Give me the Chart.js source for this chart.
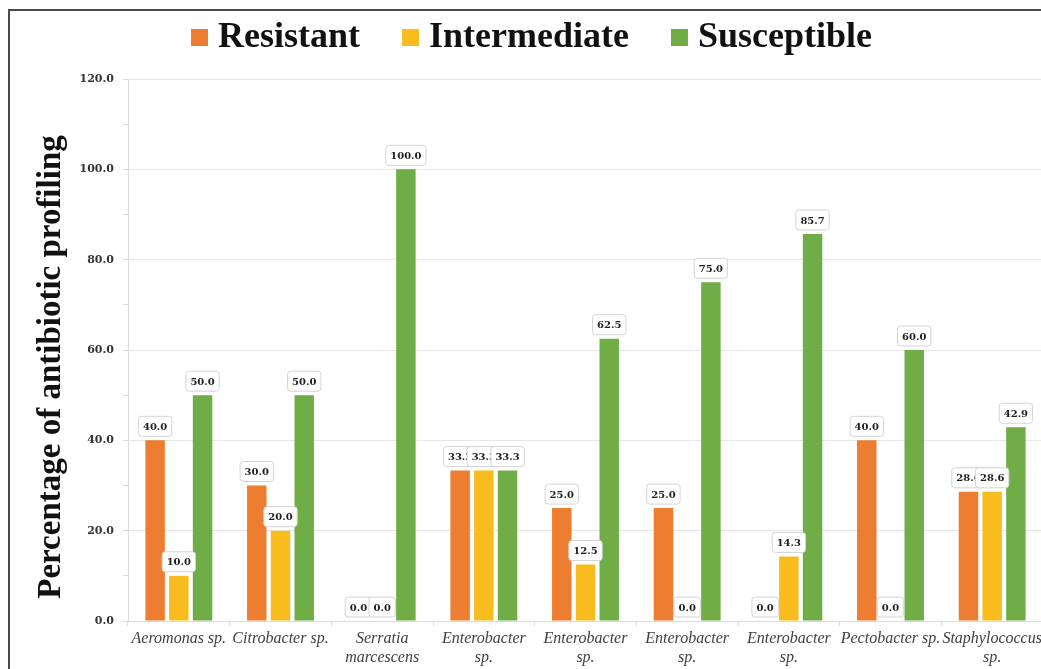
<!DOCTYPE html>
<html>
<head>
<meta charset="utf-8">
<script src="https://cdn.jsdelivr.net/npm/chart.js@4/dist/chart.umd.min.js"></script>
<style>
  html, body { margin: 0; padding: 0; background: #fff; overflow: hidden; width: 1041px; height: 669px; }
  #frame { position: absolute; left: 8px; top: 9px; width: 1100px; height: 700px; border: 2px solid #4a4a4a; box-sizing: border-box; }
  #wrap { position: absolute; left: 0; top: 0; width: 1060px; height: 669px; }
</style>
</head>
<body>
<div id="frame"></div>
<div id="wrap"><canvas id="c" width="1060" height="669" style="width:1060px;height:669px"></canvas></div>
<script>
// Isolates tested
const categories = [
  ['Aeromonas sp.'],
  ['Citrobacter sp.'],
  ['Serratia', 'marcescens'],
  ['Enterobacter', 'sp.'],
  ['Enterobacter', 'sp.'],
  ['Enterobacter', 'sp.'],
  ['Enterobacter', 'sp.'],
  ['Pectobacter sp.'],
  ['Staphylococcus', 'sp.']
];

// Percentage of antibiotics per response class
const resistant    = [40.0, 30.0, 0.0, 33.3, 25.0, 25.0, 0.0, 40.0, 28.6];
const intermediate = [10.0, 20.0, 0.0, 33.3, 12.5, 0.0, 14.3, 0.0, 28.6];
const susceptible  = [50.0, 50.0, 100.0, 33.3, 62.5, 75.0, 85.7, 60.0, 42.9];

const seriesNames = ['Resistant', 'Intermediate', 'Susceptible'];
const seriesColors = ['#ED7D31', '#F8BC1E', '#70AD47'];
const axisTitle = 'Percentage of antibiotic profiling';

const SERIF = '"Liberation Serif", "Times New Roman", serif';
const WIDE_SERIF = '"DejaVu Serif", serif';

// Boxed value labels above each bar, series by series
const valueLabels = {
  id: 'valueLabels',
  afterDatasetsDraw(chart) {
    const ctx = chart.ctx;
    ctx.save();
    ctx.font = 'bold 10px ' + WIDE_SERIF;
    ctx.textAlign = 'center';
    ctx.textBaseline = 'middle';
    chart.data.datasets.forEach((ds, i) => {
      const meta = chart.getDatasetMeta(i);
      meta.data.forEach((bar, j) => {
        const txt = ds.data[j].toFixed(1);
        const w = ctx.measureText(txt).width + 9;
        const h = 20;
        const x = bar.x - w / 2;
        const y = bar.y - 4 - h;
        ctx.beginPath();
        ctx.roundRect(x, y, w, h, 3);
        ctx.fillStyle = '#ffffff';
        ctx.fill();
        ctx.lineWidth = 1;
        ctx.strokeStyle = '#d4d4d4';
        ctx.stroke();
        ctx.fillStyle = '#1f1f1f';
        ctx.fillText(txt, bar.x, y + h / 2 + 1);
      });
    });
    ctx.restore();
  }
};

// Legend row and vertical axis title
const decorations = {
  id: 'decorations',
  afterDraw(chart) {
    const ctx = chart.ctx;
    ctx.save();
    // legend
    ctx.font = 'bold 36px ' + SERIF;
    ctx.textBaseline = 'alphabetic';
    ctx.textAlign = 'left';
    const box = 17, gapText = 10, gapItem = 42;
    const widths = chart.data.datasets.map(d => ctx.measureText(d.label).width);
    let total = 0;
    widths.forEach((w, i) => { total += box + gapText + w + (i < widths.length - 1 ? gapItem : 0); });
    let x = 531.5 - total / 2;
    chart.data.datasets.forEach((d, i) => {
      ctx.fillStyle = d.backgroundColor;
      ctx.fillRect(x, 29, box, box);
      ctx.fillStyle = '#111111';
      ctx.fillText(d.label, x + box + gapText, 47);
      x += box + gapText + widths[i] + gapItem;
    });
    // axis title
    ctx.font = 'bold 33px ' + SERIF;
    ctx.textAlign = 'center';
    ctx.translate(60, 367);
    ctx.rotate(-Math.PI / 2);
    ctx.fillStyle = '#111111';
    ctx.fillText(axisTitle, 0, 0);
    ctx.restore();
  }
};

new Chart(document.getElementById('c'), {
  type: 'bar',
  data: {
    labels: categories,
    datasets: [
      { label: seriesNames[0], data: resistant,    backgroundColor: seriesColors[0] },
      { label: seriesNames[1], data: intermediate, backgroundColor: seriesColors[1] },
      { label: seriesNames[2], data: susceptible,  backgroundColor: seriesColors[2] }
    ]
  },
  options: {
    responsive: false,
    animation: false,
    devicePixelRatio: 1,
    categoryPercentage: 0.70,
    barPercentage: 0.82,
    layout: { padding: { top: 79, right: 17, bottom: 0, left: 0 } },
    plugins: {
      legend: { display: false },
      tooltip: { enabled: false }
    },
    scales: {
      x: {
        afterFit(s) { s.height = 48; },
        grid: { offset: true, drawOnChartArea: false, drawTicks: true, tickLength: 5, tickColor: '#d9d9d9' },
        border: { color: '#dcdcdc' },
        ticks: {
          font: { family: SERIF, size: 16, style: 'italic' },
          color: '#404040',
          maxRotation: 0,
          autoSkip: false,
          padding: 3
        }
      },
      y: {
        min: 0,
        max: 120,
        afterFit(s) { s.width = 128; },
        border: { color: '#dcdcdc' },
        grid: {
          color: c => (c.tick && c.tick.value % 20 === 0) ? '#e6e6e6' : 'rgba(0,0,0,0)',
          tickColor: '#d9d9d9',
          tickLength: 5
        },
        ticks: {
          stepSize: 10,
          autoSkip: false,
          padding: 9,
          color: '#333333',
          font: { family: WIDE_SERIF, size: 11, weight: 'bold' },
          callback: v => (v % 20 === 0 ? v.toFixed(1) : '')
        }
      }
    }
  },
  plugins: [valueLabels, decorations]
});
</script>
</body>
</html>
